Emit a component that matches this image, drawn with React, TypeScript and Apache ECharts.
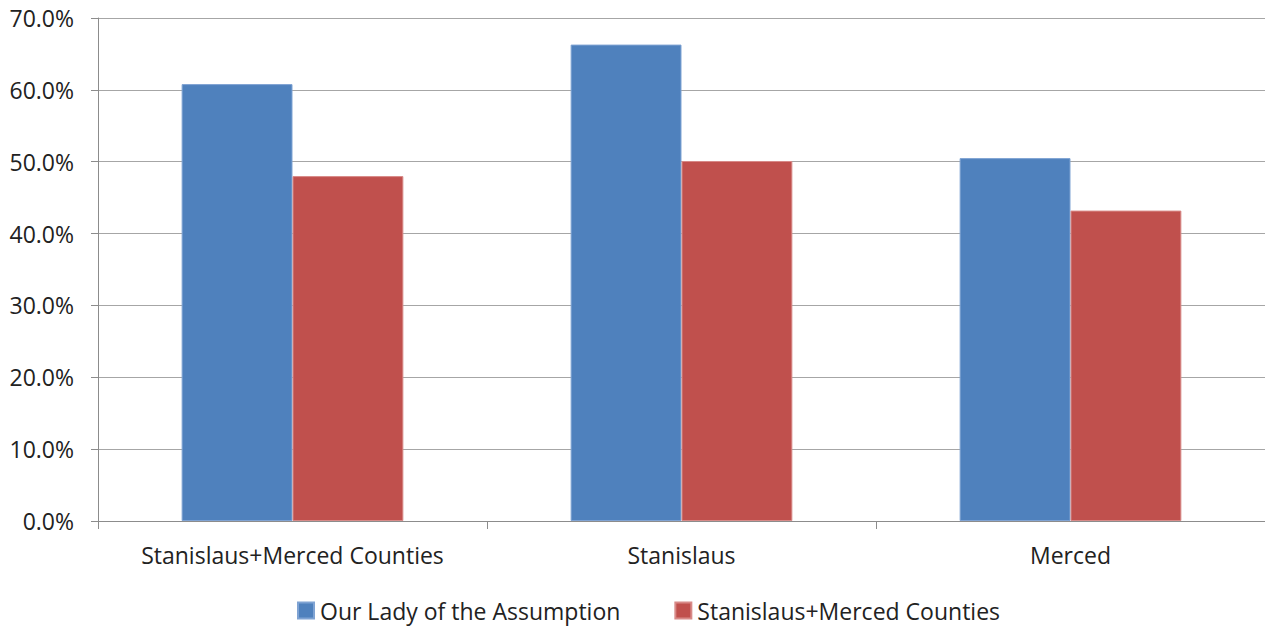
import React, { useEffect, useRef } from "react";
import * as echarts from "echarts";

const categories = ["Stanislaus+Merced Counties", "Stanislaus", "Merced"];
const seriesNames = ["Our Lady of the Assumption", "Stanislaus+Merced Counties"];
const ourLady = [60.8, 66.3, 50.5];
const counties = [48.0, 50.1, 43.2];
const colors = ["#4f81bd", "#c0504d"];
const FONT = "Open Sans";

export default function App() {
  const ref = useRef<HTMLDivElement>(null);
  useEffect(() => {
    document.body.style.margin = "0";
    const chart = echarts.init(ref.current!, null, { renderer: "svg" });
    chart.setOption({
      animation: false,
      backgroundColor: "#ffffff",
      textStyle: { fontFamily: FONT },
      grid: { left: 98, right: 0, top: 18, bottom: 108 },
      legend: {
        bottom: 2,
        left: 292,
        itemWidth: 16,
        itemHeight: 16,
        itemGap: 54,
        icon: "rect",
        textStyle: { fontSize: 23, color: "#222", fontFamily: FONT, padding: [0, 0, 0, 1] },
        data: seriesNames,
      },
      xAxis: {
        type: "category",
        data: categories,
        axisLine: { lineStyle: { color: "#8c8c8c", width: 1 } },
        axisTick: { show: true, interval: 0, alignWithLabel: false, length: 8, lineStyle: { color: "#8c8c8c" } },
        axisLabel: { interval: 0, fontSize: 23, color: "#222", margin: 22, fontFamily: FONT },
      },
      yAxis: {
        type: "value",
        min: 0,
        max: 70,
        interval: 10,
        axisLine: { show: true, lineStyle: { color: "#8c8c8c", width: 1 } },
        axisTick: { show: true, length: 7, lineStyle: { color: "#8c8c8c" } },
        splitLine: { lineStyle: { color: "#a6a6a6", width: 1 } },
        axisLabel: {
          fontSize: 23,
          color: "#222",
          margin: 24,
          fontFamily: FONT,
          formatter: (v: number) => v.toFixed(1) + "%",
        },
      },
      series: [
        {
          name: seriesNames[0],
          type: "bar",
          data: ourLady,
          barGap: "0%",
          barCategoryGap: "43%",
          itemStyle: { color: colors[0], borderColor: "#7fa3d3", borderWidth: 1 },
        },
        {
          name: seriesNames[1],
          type: "bar",
          data: counties,
          itemStyle: { color: colors[1], borderColor: "#d88a88", borderWidth: 1 },
        },
      ],
    });
    return () => chart.dispose();
  }, []);
  return <div ref={ref} style={{ position: "absolute", left: 0, top: 0, width: 1265, height: 629 }} />;
}
